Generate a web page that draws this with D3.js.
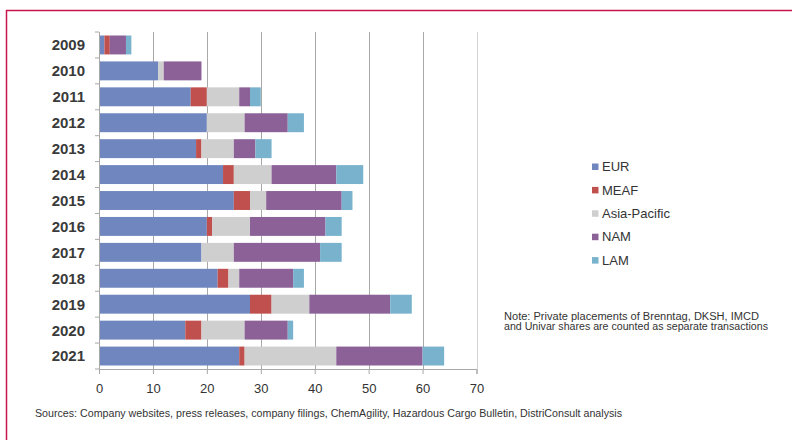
<!DOCTYPE html>
<html>
<head>
<meta charset="utf-8">
<script src="https://cdn.jsdelivr.net/npm/d3@7"></script>
<style>
  html, body { margin: 0; padding: 0; background: #fff; }
  svg { display: block; font-family: "Liberation Sans", Arial, sans-serif; }
</style>
</head>
<body>
<svg id="chart" width="792" height="440"></svg>
<script>
// Number of transactions per year, split by region of the target
const years = ["2009","2010","2011","2012","2013","2014","2015","2016","2017","2018","2019","2020","2021"];
const regions = ["EUR","MEAF","Asia-Pacific","NAM","LAM"];
const eur         = [1, 11, 17, 20, 18, 23, 25, 20, 19, 22, 28, 16, 26];
const meaf        = [1,  0,  3,  0,  1,  2,  3,  1,  0,  2,  4,  3,  1];
const asiaPacific = [0,  1,  6,  7,  6,  7,  3,  7,  6,  2,  7,  8, 17];
const nam         = [3,  7,  2,  8,  4, 12, 14, 14, 16, 10, 15,  8, 16];
const lam         = [1,  0,  2,  3,  3,  5,  2,  3,  4,  2,  4,  1,  4];
const xTicks = [0, 10, 20, 30, 40, 50, 60, 70];
const colors = ["#6f86bf", "#c0504d", "#cfcfcf", "#8b6198", "#78b2cd"];

const seriesValues = [eur, meaf, asiaPacific, nam, lam];
const rows = years.map((y, i) => {
  const r = { year: y };
  regions.forEach((k, j) => r[k] = seriesValues[j][i]);
  return r;
});

const svg = d3.select("#chart");

// frame lines along the top and left edge
svg.append("line").attr("x1", 6).attr("x2", 792).attr("y1", 10.5).attr("y2", 10.5)
  .attr("stroke", "#c8174a").attr("stroke-width", 1.5);
svg.append("line").attr("x1", 6.5).attr("x2", 6.5).attr("y1", 10).attr("y2", 440)
  .attr("stroke", "#c8174a").attr("stroke-width", 1.5);

const plot = { left: 99, right: 476.5, top: 32, bottom: 369 };

const x = d3.scaleLinear().domain([0, 70]).range([plot.left, plot.right]);
const y = d3.scaleBand().domain(years).range([plot.top, plot.bottom]).paddingInner(0.27).paddingOuter(0.135);

// vertical gridlines
svg.append("g").selectAll("line").data(xTicks.slice(1)).join("line")
  .attr("x1", d => Math.round(x(d)) + 0.5).attr("x2", d => Math.round(x(d)) + 0.5)
  .attr("y1", plot.top).attr("y2", plot.bottom)
  .attr("stroke", d => d === 70 ? "#d4d4d4" : "#a8a8a8").attr("stroke-width", 1);

// stacked bars
const stack = d3.stack().keys(regions)(rows);
svg.append("g").selectAll("g").data(stack).join("g")
  .attr("fill", (d, i) => colors[i])
  .selectAll("rect").data(d => d).join("rect")
  .attr("x", d => x(d[0]))
  .attr("width", d => x(d[1]) - x(d[0]))
  .attr("y", d => y(d.data.year))
  .attr("height", y.bandwidth());

// x axis
const xAxis = svg.append("g")
  .attr("transform", `translate(0,${plot.bottom})`)
  .call(d3.axisBottom(x).tickValues(xTicks).tickSize(5).tickPadding(10));
xAxis.select(".domain").attr("stroke", "#a8a8a8");
xAxis.selectAll(".tick line").attr("stroke", "#a8a8a8");
xAxis.selectAll("text").attr("font-size", 13).attr("fill", "#333")
  .attr("font-family", "Liberation Sans, Arial, sans-serif");

// y axis with ticks at category boundaries
const yAxis = svg.append("g").attr("transform", `translate(${plot.left},0)`);
yAxis.append("line").attr("x1", 0.5).attr("x2", 0.5).attr("y1", plot.top).attr("y2", plot.bottom)
  .attr("stroke", "#a8a8a8");
const boundaries = d3.range(years.length + 1).map(i => plot.top + i * (plot.bottom - plot.top) / years.length);
yAxis.selectAll("line.b").data(boundaries).join("line").attr("class", "b")
  .attr("x1", -4).attr("x2", 0).attr("y1", d => d).attr("y2", d => d)
  .attr("stroke", "#a8a8a8");
yAxis.selectAll("text").data(years).join("text")
  .attr("x", -14).attr("y", d => y(d) + y.bandwidth() / 2)
  .attr("dy", "0.36em").attr("text-anchor", "end")
  .attr("font-size", 15).attr("font-weight", "bold").attr("fill", "#3a3a3a")
  .text(d => d);

// legend
const legend = svg.append("g").attr("transform", "translate(592,166.5)");
const lg = legend.selectAll("g").data(regions).join("g")
  .attr("transform", (d, i) => `translate(0,${i * 23.4})`);
lg.append("rect").attr("x", 0).attr("y", -3).attr("width", 6.5).attr("height", 6.5)
  .attr("fill", (d, i) => colors[i]);
lg.append("text").attr("x", 10).attr("dy", "0.36em")
  .attr("font-size", 13).attr("fill", "#333").text(d => d);

// note
const note = svg.append("g").attr("font-size", 10).attr("fill", "#333");
note.append("text").attr("x", 504).attr("y", 320)
  .attr("textLength", 255).attr("lengthAdjust", "spacingAndGlyphs")
  .text("Note: Private placements of Brenntag, DKSH, IMCD");
note.append("text").attr("x", 504).attr("y", 330)
  .attr("textLength", 264).attr("lengthAdjust", "spacingAndGlyphs")
  .text("and Univar shares are counted as separate transactions");

// sources line
svg.append("text").attr("x", 35).attr("y", 417)
  .attr("font-size", 10.5).attr("fill", "#333")
  .attr("textLength", 587).attr("lengthAdjust", "spacingAndGlyphs")
  .text("Sources: Company websites, press releases, company filings, ChemAgility, Hazardous Cargo Bulletin, DistriConsult analysis");
</script>
</body>
</html>
